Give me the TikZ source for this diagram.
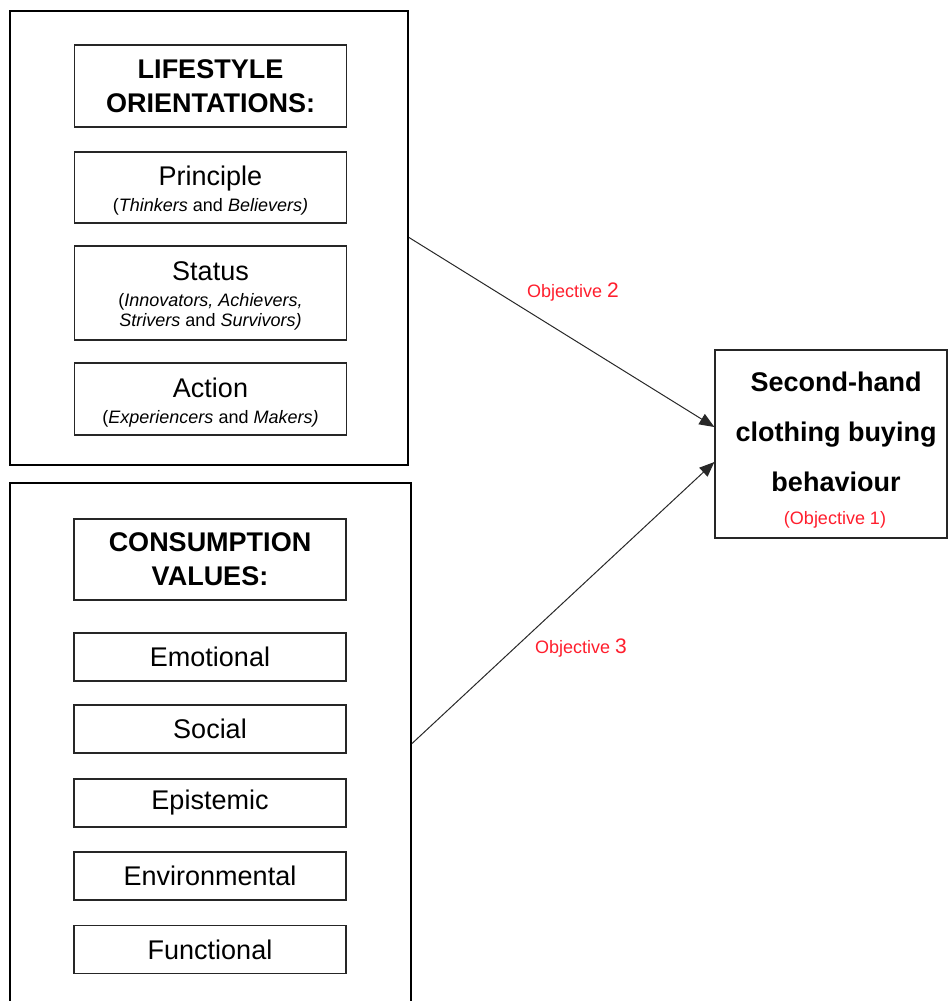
\documentclass[tikz,border=0pt]{standalone}
\usepackage{fontspec}
\setmainfont{Liberation Sans}
\usetikzlibrary{arrows.meta}
\definecolor{objred}{RGB}{255,30,45}
\definecolor{arrgray}{RGB}{40,40,40}
\tikzset{
  outerbox/.style={draw=black, line width=2pt, inner sep=0pt},
  itembox/.style={draw=black!85, line width=1.3pt, inner sep=0pt, align=center, minimum width=272pt},
  itemtext/.style={inner sep=0pt, align=center, font=\fontsize{18}{20}\selectfont},
  bigtxt/.style={font=\fontsize{27}{30}\selectfont},
  headtxt/.style={font=\fontsize{27}{34}\selectfont\bfseries},
  objlabel/.style={text=objred, font=\fontsize{18}{20}\selectfont, inner sep=0pt},
  link/.style={draw=arrgray, line width=1pt, -{Triangle[length=15pt,width=12pt]}}
}
\newcommand{\bigword}[1]{{\fontsize{27}{30}\selectfont #1}}
\begin{document}
\begin{tikzpicture}[x=1pt,y=-1pt]
\useasboundingbox (0,0) rectangle (948,1001);
% outer boxes
\node[outerbox, minimum width=398.5pt, minimum height=454pt] (outer1) at (208.75,237.5) {};
\node[outerbox, minimum width=401.5pt, minimum height=527pt] (outer2) at (210.25,746.5) {};
% lifestyle group
\node[itembox, headtxt, minimum height=82pt] (t1) at (210.5,86) {LIFESTYLE\\ORIENTATIONS:};
\node[itembox, minimum height=71pt] (p1) at (210.5,187.5) {};
\node[itemtext] (p1t) at (210.5,191) {\bigword{Principle}\\[6pt](\textit{Thinkers} and \textit{Believers)}};
\node[itembox, minimum height=94pt] (s1) at (210.5,293) {};
\node[itemtext] (s1t) at (210.5,295.5) {\bigword{Status}\\[6pt](\textit{Innovators, Achievers,}\\\textit{Strivers} and \textit{Survivors)}};
\node[itembox, minimum height=72pt] (a1) at (210.5,399) {};
\node[itemtext] (a1t) at (210.5,403) {\bigword{Action}\\[6pt](\textit{Experiencers} and \textit{Makers)}};
% consumption group
\node[itembox, headtxt, minimum height=81pt] (t2) at (210,559.5) {CONSUMPTION\\VALUES:};
\node[itembox, bigtxt, minimum height=48pt] (v1) at (210,657) {Emotional};
\node[itembox, bigtxt, minimum height=48pt] (v2) at (210,729) {Social};
\node[itembox, bigtxt, minimum height=48pt] (v3) at (210,803) {Epistemic};
\node[itembox, bigtxt, minimum height=48pt] (v4) at (210,876) {Environmental};
\node[itembox, bigtxt, minimum height=48pt] (v5) at (210,949.5) {Functional};
% outcome box
\node[draw=black!85, line width=1.3pt, minimum width=232pt, minimum height=188pt, inner sep=0pt, align=center] (rb) at (831,444) {};
\node[align=center, font=\fontsize{27}{50}\selectfont\bfseries, inner sep=0pt] (rbtxt) at (836,432) {Second-hand\\clothing buying\\behaviour};
\node[objlabel] (obj1) at (835,520) {(Objective 1)};
% connectors
\draw[link] (outer1.east) -- ([yshift=17pt]rb.west);
\draw[link] ([yshift=3pt]outer2.east) -- ([yshift=-18pt]rb.west);
\node[objlabel] (obj2) at (573,292) {Objective {\fontsize{21}{22}\selectfont 2}};
\node[objlabel] (obj3) at (581,648) {Objective {\fontsize{21}{22}\selectfont 3}};
\end{tikzpicture}
\end{document}
